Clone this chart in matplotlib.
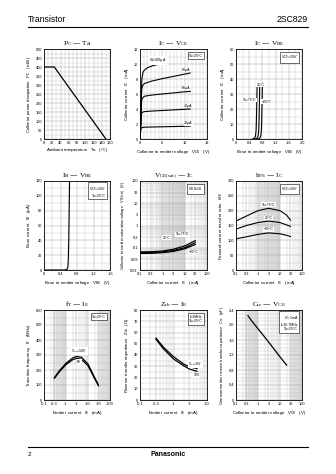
import matplotlib
matplotlib.use('Agg')
import matplotlib.pyplot as plt
import numpy as np
from matplotlib.ticker import FixedLocator, FixedFormatter, MultipleLocator, NullFormatter, LogLocator

# ---------------- data ----------------
pc_ta = [0, 25, 150]
pc_mw = [400, 400, 0]

vce_pts = [0.0, 0.2, 0.35, 0.5, 0.8, 1.2, 3, 6, 9, 12, 13.5]
ib100_v = [0.0, 0.2, 0.35, 0.5, 0.8, 1.2, 2, 3, 4, 5, 6]
ib100_i = [0.0, 2.0, 6.0, 8.0, 8.9, 9.2, 9.5, 9.7, 9.85, 9.95, 10.1]
ib80_i = [0.0, 2.0, 5.5, 6.8, 7.2, 7.4, 7.7, 8.05, 8.35, 8.65, 8.8]
ib60_i = [0.0, 2.0, 4.5, 5.3, 5.55, 5.7, 5.85, 6.0, 6.15, 6.3, 6.35]
ib40_i = [0.0, 1.8, 3.2, 3.5, 3.6, 3.65, 3.72, 3.8, 3.88, 3.96, 4.0]
ib20_i = [0.0, 1.1, 1.45, 1.52, 1.55, 1.57, 1.6, 1.63, 1.66, 1.7, 1.72]
ib_labels = ['$\\mathregular{I_B}$=100µA', '80µA', '60µA', '40µA', '20µA']

ic_vbe_ic = [0, 0.6, 2, 6, 14, 25, 36]
vbe_75 = [0.50, 0.56, 0.59, 0.61, 0.62, 0.63, 0.64]
vbe_25 = [0.58, 0.64, 0.67, 0.69, 0.70, 0.71, 0.72]
vbe_m25 = [0.66, 0.72, 0.75, 0.77, 0.78, 0.79, 0.80]

ib_vbe_v = [0.0, 0.50, 0.56, 0.58, 0.59, 0.60, 0.61, 0.62]
ib_vbe_i = [0, 0, 1, 5, 15, 40, 80, 120]

sat_ic = [0.1, 0.3, 1, 3, 10, 30]
sat_75 = [0.065, 0.066, 0.071, 0.085, 0.12, 0.21]
sat_25 = [0.060, 0.061, 0.065, 0.075, 0.10, 0.17]
sat_m25 = [0.055, 0.056, 0.060, 0.068, 0.09, 0.14]

hfe_ic = [0.1, 0.3, 1, 3, 10, 20, 30]
hfe_75 = [165, 182, 200, 208, 200, 185, 168]
hfe_25 = [138, 150, 160, 165, 160, 152, 147]
hfe_m25 = [105, 112, 120, 125, 122, 117, 113]

ft_ie = [0.3, 0.5, 1, 2, 3, 5, 10, 20, 30]
ft_10v = [150, 195, 245, 280, 290, 285, 240, 150, 100]
ft_6v = [145, 188, 236, 268, 278, 272, 228, 142, 95]

zrb_ie = [0.3, 0.5, 1, 2, 3, 5]
zrb_6v = [55, 47, 38.5, 32, 29.5, 28]
zrb_10v = [54, 45.5, 36.5, 30.5, 27.5, 25.5]

cre_vce = [0.35, 0.5, 1, 2, 3, 5, 10, 20]
cre_pf = [2.25, 2.12, 1.9, 1.68, 1.55, 1.38, 1.15, 0.93]

# ---------------- style ----------------
W, H = 336, 474
fig = plt.figure(figsize=(W / 100, H / 100), dpi=100)
fig.patch.set_facecolor('white')
SANS = ['Liberation Sans', 'DejaVu Sans']
SERIF = ['Liberation Serif', 'DejaVu Serif']
plt.rcParams['font.family'] = SANS
TICK_FS = 2.8
LAB_FS = 3.2
TITLE_FS = 5.3
GRID_C = '#b4b4b4'


def ax_at(l, t, r, b):
    return fig.add_axes([l / W, 1 - b / H, (r - l) / W, (b - t) / H])


def style(ax, title, xlabel, ylabel):
    ax.set_title(title, fontsize=TITLE_FS, family=SERIF, pad=3)
    ax.set_xlabel(xlabel, fontsize=LAB_FS, labelpad=2)
    ax.set_ylabel(ylabel, fontsize=LAB_FS, labelpad=2)
    ax.tick_params(axis='both', which='both', length=0, labelsize=TICK_FS, pad=1.5)
    for s in ax.spines.values():
        s.set_linewidth(0.6)
    ax.grid(True, which='minor', color=GRID_C, lw=0.25)
    ax.grid(True, which='major', color='#999999', lw=0.3)
    ax.set_axisbelow(True)


def box(ax, txt):
    ax.text(0.94, 0.95, txt, transform=ax.transAxes, ha='right', va='top',
            fontsize=2.6, linespacing=1.2,
            bbox=dict(boxstyle='square,pad=0.4', fc='white', ec='black', lw=0.4))


def logx(ax, lo, hi, labels, neg=False):
    ax.set_xscale('log')
    ax.set_xlim(lo, hi)
    ax.xaxis.set_major_locator(FixedLocator(labels))
    ax.xaxis.set_major_formatter(FixedFormatter([('-' if neg else '') + ('%g' % v) for v in labels]))
    ax.xaxis.set_minor_locator(LogLocator(base=10, subs=np.arange(1, 10)))
    ax.xaxis.set_minor_formatter(NullFormatter())


cols = [(44, 110), (140, 207), (236, 302)]
rows = [(49, 139), (181, 270), (310, 400)]

# header / footer
fig.add_artist(plt.Line2D([28 / W, 308 / W], [1 - 27 / H, 1 - 27 / H], color='black', lw=0.8))
fig.text(28 / W, 1 - 24 / H, 'Transistor', fontsize=6.2, ha='left', va='bottom')
fig.text(308 / W, 1 - 24 / H, '2SC829', fontsize=6.2, ha='right', va='bottom')
fig.add_artist(plt.Line2D([28 / W, 308 / W], [1 - 447 / H, 1 - 447 / H], color='black', lw=0.8))
fig.text(28 / W, 1 - 455 / H, '2', fontsize=4.5, ha='left', va='center')
fig.text(168 / W, 1 - 455 / H, 'Panasonic', fontsize=5, ha='center', va='center', weight='bold')

# ---- 1: Pc - Ta
ax = ax_at(cols[0][0], rows[0][0], cols[0][1], rows[0][1])
ax.plot(pc_ta, pc_mw, color='black', lw=0.9)
ax.set_xlim(0, 160); ax.set_ylim(0, 500)
ax.xaxis.set_major_locator(MultipleLocator(20)); ax.xaxis.set_minor_locator(MultipleLocator(10))
ax.yaxis.set_major_locator(MultipleLocator(50)); ax.yaxis.set_minor_locator(MultipleLocator(25))
style(ax, '$\\mathregular{P_C}$ — Ta', 'Ambient temperature   Ta   (°C)',
      'Collector power dissipation   $\\mathregular{P_C}$   (mW)')

# ---- 2: Ic - Vce
ax = ax_at(cols[1][0], rows[0][0], cols[1][1], rows[0][1])
ax.plot(ib100_v, ib100_i, color='black', lw=0.8)
for ys in [ib80_i, ib60_i, ib40_i, ib20_i]:
    ax.plot(vce_pts, ys, color='black', lw=0.8)
ax.set_xlim(0, 18); ax.set_ylim(0, 12)
ax.xaxis.set_major_locator(MultipleLocator(6)); ax.xaxis.set_minor_locator(MultipleLocator(1))
ax.yaxis.set_major_locator(MultipleLocator(2)); ax.yaxis.set_minor_locator(MultipleLocator(1))
style(ax, '$\\mathregular{I_C}$ — $\\mathregular{V_{CE}}$', 'Collector to emitter voltage   $\\mathregular{V_{CE}}$   (V)',
      'Collector current   $\\mathregular{I_C}$   (mA)')
box(ax, 'Ta=25°C')
lab_pos = [(2.5, 10.5), (12.5, 9.2), (12.5, 6.8), (13.0, 4.4), (13.0, 2.1)]
for t, (x, y) in zip(ib_labels, lab_pos):
    ax.text(x, y, t, fontsize=2.6, ha='left' if x < 5 else 'center', va='center',
            bbox=dict(boxstyle='square,pad=0.1', fc='white', ec='none'))

# ---- 3: Ic - Vbe
ax = ax_at(cols[2][0], rows[0][0], cols[2][1], rows[0][1])
for xs in [vbe_75, vbe_25, vbe_m25]:
    ax.plot(xs, ic_vbe_ic, color='black', lw=0.8)
ax.set_xlim(0, 2.0); ax.set_ylim(0, 60)
ax.set_xticks([0, 0.4, 0.8, 1.2, 1.6, 2.0]); ax.set_xticklabels(['0', '0.4', '0.8', '1.2', '1.6', '2.0'])
ax.xaxis.set_minor_locator(MultipleLocator(0.2))
ax.yaxis.set_major_locator(MultipleLocator(10)); ax.yaxis.set_minor_locator(MultipleLocator(5))
style(ax, '$\\mathregular{I_C}$ — $\\mathregular{V_{BE}}$', 'Base to emitter voltage   $\\mathregular{V_{BE}}$   (V)',
      'Collector current   $\\mathregular{I_C}$   (mA)')
box(ax, '$\\mathregular{V_{CE}}$=10V')
kw = dict(fontsize=2.5, va='center', bbox=dict(boxstyle='square,pad=0.1', fc='white', ec='none'))
ax.text(0.41, 26, 'Ta=75°C', ha='center', **kw)
ax.text(0.74, 36, '25°C', ha='center', **kw)
ax.text(0.93, 25, '−25°C', ha='center', **kw)

# ---- 4: Ib - Vbe
ax = ax_at(cols[0][0], rows[1][0], cols[0][1], rows[1][1])
ax.plot(ib_vbe_v, ib_vbe_i, color='black', lw=0.8)
ax.set_xlim(0, 1.6); ax.set_ylim(0, 120)
ax.set_xticks([0, 0.4, 0.8, 1.2, 1.6]); ax.set_xticklabels(['0', '0.4', '0.8', '1.2', '1.6'])
ax.xaxis.set_minor_locator(MultipleLocator(0.2))
ax.yaxis.set_major_locator(MultipleLocator(20)); ax.yaxis.set_minor_locator(MultipleLocator(10))
style(ax, '$\\mathregular{I_B}$ — $\\mathregular{V_{BE}}$', 'Base to emitter voltage   $\\mathregular{V_{BE}}$   (V)',
      'Base current   $\\mathregular{I_B}$   (µA)')
box(ax, '$\\mathregular{V_{CE}}$=10V\nTa=25°C')

# ---- 5: Vce(sat) - Ic
ax = ax_at(cols[1][0], rows[1][0], cols[1][1], rows[1][1])
ax.axvspan(1, 10, color='#e0e0e0', zorder=0, lw=0)
for ys in [sat_75, sat_25, sat_m25]:
    ax.plot(sat_ic, ys, color='black', lw=0.9)
logx(ax, 0.1, 100, [0.1, 0.3, 1, 3, 10, 30, 100])
ax.set_yscale('log'); ax.set_ylim(0.01, 100)
yl = [0.01, 0.03, 0.1, 0.3, 1, 3, 10, 30, 100]
ax.yaxis.set_major_locator(FixedLocator(yl))
ax.yaxis.set_major_formatter(FixedFormatter(['%g' % v for v in yl]))
ax.yaxis.set_minor_locator(LogLocator(base=10, subs=np.arange(1, 10)))
ax.yaxis.set_minor_formatter(NullFormatter())
style(ax, '$\\mathregular{V_{CE(sat)}}$ — $\\mathregular{I_C}$', 'Collector current   $\\mathregular{I_C}$   (mA)',
      'Collector to emitter saturation voltage   $\\mathregular{V_{CE(sat)}}$   (V)')
ax.yaxis.label.set_size(2.8)
box(ax, '$\\mathregular{I_C/I_B}$=10')
ax.text(1.5, 0.28, '25°C', ha='center', **kw)
ax.text(8, 0.4, 'Ta=75°C', ha='center', **kw)
ax.text(15, 0.065, '−25°C', ha='left', **kw)

# ---- 6: hFE - Ic
ax = ax_at(cols[2][0], rows[1][0], cols[2][1], rows[1][1])
ax.axvspan(1, 10, color='#e0e0e0', zorder=0, lw=0)
for ys in [hfe_75, hfe_25, hfe_m25]:
    ax.plot(hfe_ic, ys, color='black', lw=0.8)
logx(ax, 0.1, 100, [0.1, 0.3, 1, 3, 10, 30, 100])
ax.set_ylim(0, 300)
ax.yaxis.set_major_locator(MultipleLocator(50)); ax.yaxis.set_minor_locator(MultipleLocator(25))
style(ax, '$\\mathregular{h_{FE}}$ — $\\mathregular{I_C}$', 'Collector current   $\\mathregular{I_C}$   (mA)',
      'Forward current transfer ratio   $\\mathregular{h_{FE}}$')
box(ax, '$\\mathregular{V_{CE}}$=10V')
ax.text(3, 220, 'Ta=75°C', ha='center', **kw)
ax.text(3, 175, '25°C', ha='center', **kw)
ax.text(3, 137, '−25°C', ha='center', **kw)

# ---- 7: fT - IE
ax = ax_at(cols[0][0], rows[2][0], cols[0][1], rows[2][1])
ax.axvspan(0.25, 1, color='#e6e6e6', zorder=0, lw=0)
ax.axvspan(30, 100, color='#e6e6e6', zorder=0, lw=0)
ax.plot(ft_ie, ft_10v, color='black', lw=0.9)
ax.plot(ft_ie, ft_6v, color='black', lw=0.9)
logx(ax, 0.1, 100, [0.1, 0.3, 1, 3, 10, 30, 100], neg=True)
ax.set_ylim(0, 600)
ax.yaxis.set_major_locator(MultipleLocator(100)); ax.yaxis.set_minor_locator(MultipleLocator(50))
style(ax, '$\\mathregular{f_T}$ — $\\mathregular{I_E}$', 'Emitter current   $\\mathregular{I_E}$   (mA)',
      'Transition frequency   $\\mathregular{f_T}$   (MHz)')
box(ax, 'Ta=25°C')
ax.text(4, 325, '$\\mathregular{V_{CB}}$=10V', ha='center', **kw)
ax.text(4, 255, '6V', ha='center', **kw)

# ---- 8: Zrb - IE
ax = ax_at(cols[1][0], rows[2][0], cols[1][1], rows[2][1])
ax.plot(zrb_ie, zrb_6v, color='black', lw=0.9)
ax.plot(zrb_ie, zrb_10v, color='black', lw=0.9)
logx(ax, 0.1, 10, [0.1, 0.3, 1, 3, 10], neg=True)
ax.set_ylim(0, 80)
ax.yaxis.set_major_locator(MultipleLocator(10)); ax.yaxis.set_minor_locator(MultipleLocator(5))
style(ax, '$\\mathregular{Z_{rb}}$ — $\\mathregular{I_E}$', 'Emitter current   $\\mathregular{I_E}$   (mA)',
      'Reverse transfer impedance   $\\mathregular{Z_{rb}}$   (Ω)')
box(ax, 'f=2MHz\nTa=25°C')
ax.text(4.5, 32, '$\\mathregular{V_{CB}}$=6V', ha='center', **kw)
ax.text(5.0, 22, '10V', ha='center', **kw)

# ---- 9: Cre - VCE
ax = ax_at(cols[2][0], rows[2][0], cols[2][1], rows[2][1])
ax.axvspan(0.25, 1, color='#e6e6e6', zorder=0, lw=0)
ax.axvspan(30, 100, color='#e6e6e6', zorder=0, lw=0)
ax.plot(cre_vce, cre_pf, color='black', lw=0.9)
logx(ax, 0.1, 100, [0.1, 0.3, 1, 3, 10, 30, 100])
ax.set_ylim(0, 2.4)
ax.set_yticks([0, 0.4, 0.8, 1.2, 1.6, 2.0, 2.4]); ax.set_yticklabels(['0', '0.4', '0.8', '1.2', '1.6', '2.0', '2.4'])
ax.yaxis.set_minor_locator(MultipleLocator(0.1))
style(ax, '$\\mathregular{C_{re}}$ — $\\mathregular{V_{CE}}$', 'Collector to emitter voltage   $\\mathregular{V_{CE}}$   (V)',
      'Common emitter reverse transfer capacitance   $\\mathregular{C_{re}}$   (pF)')
ax.yaxis.label.set_size(2.8)
box(ax, '$\\mathregular{I_C}$=1mA\nf=10.7MHz\nTa=25°C')

fig.savefig('out.png', dpi=100, facecolor='white')
